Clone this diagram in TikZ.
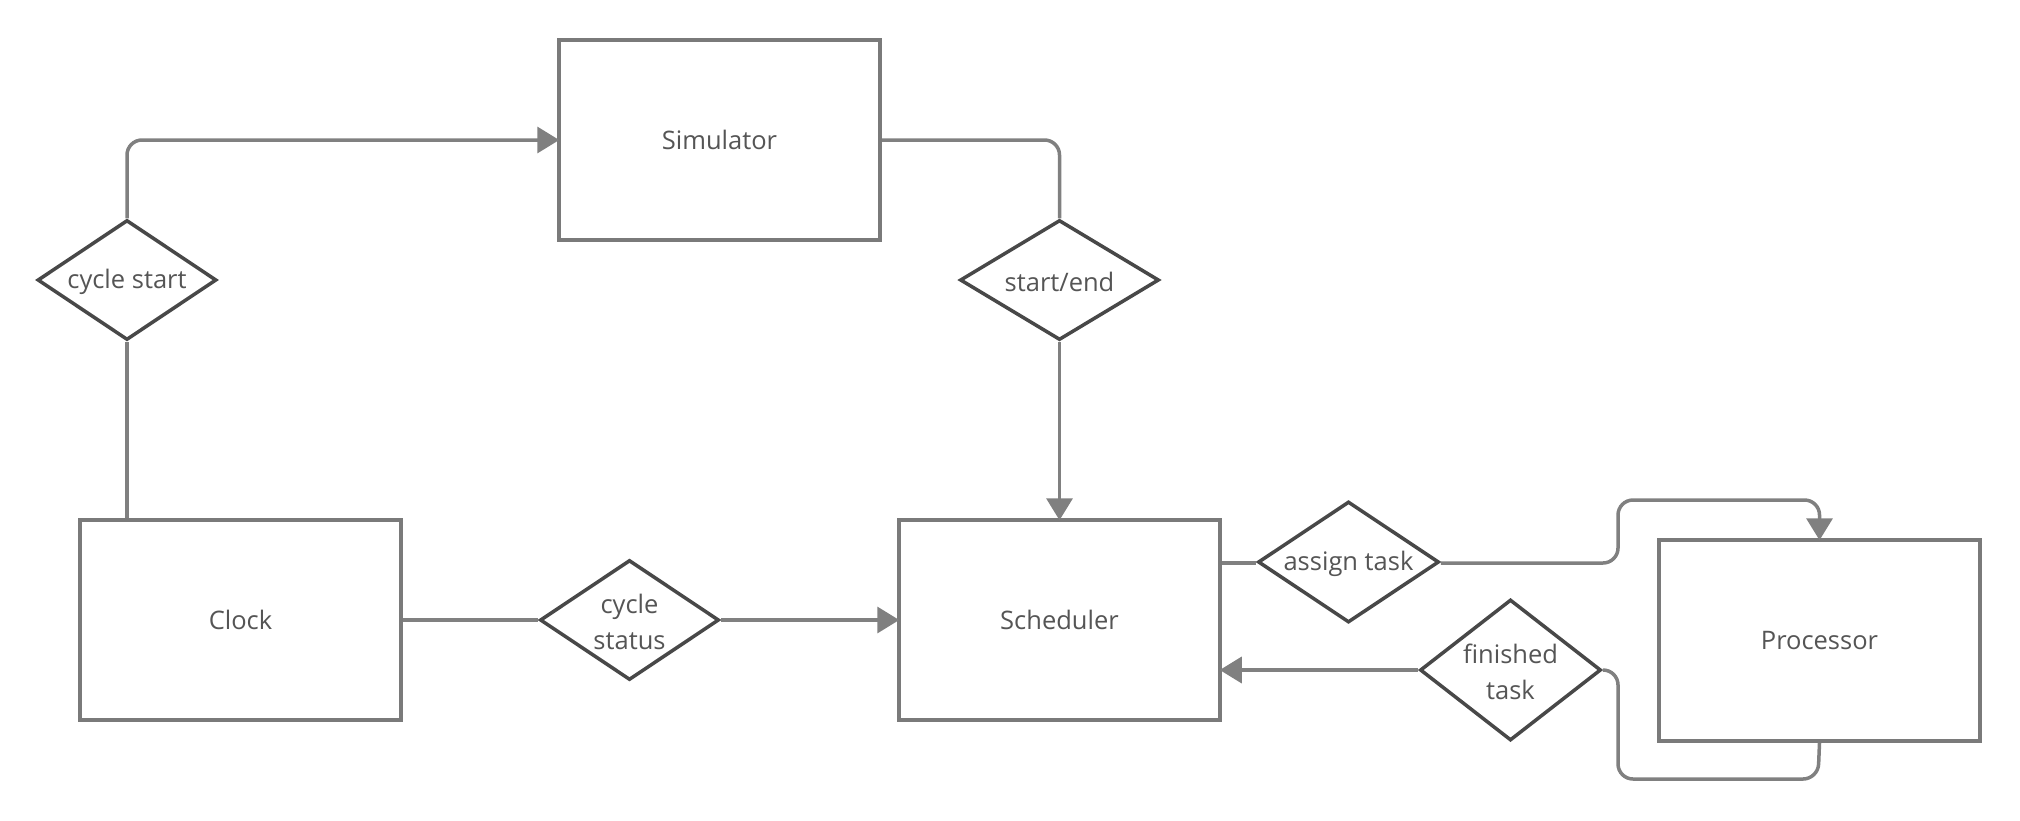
\documentclass[tikz,border=0pt]{standalone}
\usepackage{fontspec}
\setmainfont{Open Sans}
\usetikzlibrary{shapes.geometric,arrows.meta}
\definecolor{linec}{HTML}{808080}
\definecolor{boxc}{HTML}{7A7A7A}
\definecolor{diamc}{HTML}{484848}
\definecolor{txtc}{HTML}{555555}
\begin{document}
\begin{tikzpicture}[x=1pt,y=-1pt,
  box/.style={draw=boxc, line width=3.5pt, minimum width=321pt, minimum height=200pt, inner sep=0pt,
    font=\fontsize{25.5}{36}\selectfont, text=txtc},
  diam/.style 2 args={shape=diamond, draw=diamc, line width=3.5pt, fill=white, minimum width=#1pt, minimum height=#2pt, inner sep=0pt},
  dtext/.style={font=\fontsize{25.5}{36}\selectfont, text=txtc, align=center, yshift=-2pt},
  conn/.style={draw=linec, line width=3.5pt, rounded corners=15pt},
  arr/.style={conn, -{Triangle[length=22pt,width=26pt]}, shorten >=-2pt}]
\useasboundingbox (0,0) rectangle (2020,820);
% boxes
\node[box] (sim) at (719.5,140) {Simulator};
\node[box] (clock) at (240.5,620) {Clock};
\node[box] (sched) at (1059.5,620) {Scheduler};
\node[box, minimum height=201pt] (proc) at (1819.5,640.5) {Processor};
% diamonds
\node[diam={179}{120}, label={[dtext]center:cycle start}] (cs) at (127,280) {};
\node[diam={199}{120}, label={[dtext]center:start/end}] (se) at (1059.5,280) {};
\node[diam={179}{120}, label={[dtext]center:cycle\\status}] (cst) at (629.5,620) {};
\node[diam={181}{121}, label={[dtext]center:assign task}] (at) at (1348.5,562) {};
\node[diam={181}{141}, label={[dtext]center:finished\\task}] (ft) at (1510.5,670) {};
% bend points
\coordinate (b1) at (1618,563);
\coordinate (b2) at (1618,500);
\coordinate (b3) at (1818,779);
\coordinate (b4) at (1618,779);
\coordinate (b5) at (1618,670);
% connectors
\draw[arr] (cs.north) |- (sim.west);
\draw[conn] (cs.south) -- (cs.south |- clock.north);
\draw[conn] (sim.east) -| (se.north);
\draw[arr] (se.south) -- (sched.north);
\draw[conn] (clock.east) -- (cst.west);
\draw[arr] (cst.east) -- (sched.west);
\draw[conn] (sched.east |- b1) -- (b1 -| at.west);
\draw[arr] (b1 -| at.east) -- (b1) -- (b2) -- (b2 -| proc.north) -- (proc.north);
\draw[conn] (proc.south) -- (b3) -- (b4) -- (b5) -- (ft.east);
\draw[arr] (ft.west) -- (ft.west -| sched.east);
\end{tikzpicture}
\end{document}
